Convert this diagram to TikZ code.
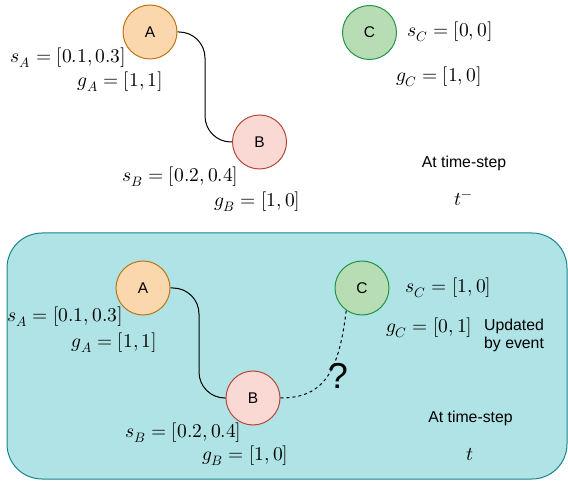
\documentclass[tikz,border=0pt]{standalone}
\usepackage{fontspec}
\setmainfont{Liberation Sans}
\usepackage{unicode-math}
\setmathfont{Latin Modern Math}
\definecolor{afill}{HTML}{FAD7AC}
\definecolor{adraw}{HTML}{BC7418}
\definecolor{bfill}{HTML}{FAD9D5}
\definecolor{bdraw}{HTML}{B5473A}
\definecolor{cfill}{HTML}{B8DCB4}
\definecolor{cdraw}{HTML}{23934A}
\definecolor{boxfill}{HTML}{B0E3E6}
\definecolor{boxdraw}{HTML}{16848C}
\tikzset{
  state/.style={circle, minimum size=54pt, inner sep=0pt, line width=1pt, font=\fontsize{15.5}{18}\selectfont},
  sa/.style={state, fill=afill, draw=adraw},
  sb/.style={state, fill=bfill, draw=bdraw},
  sc/.style={state, fill=cfill, draw=cdraw},
  mlab/.style={inner sep=0pt, font=\fontsize{19.5}{22}\selectfont},
  tlab/.style={inner sep=0pt, font=\fontsize{15.8}{19}\selectfont},
  link/.style={line width=1pt, rounded corners=26pt},
}
\begin{document}
\begin{tikzpicture}[x=1pt, y=-1pt]
\useasboundingbox (0,0) rectangle (568,481);
% ---------- top (t^-) ----------
\node[sa] (A1) at (150,32) {A};
\node[sb] (B1) at (259.5,142) {B};
\node[sc] (C1) at (369.5,32.5) {C};
\coordinate (k1) at (205,32);
\coordinate (k2) at (205,142);
\draw[link] (A1.east) -- (k1) -- (k2) -- (B1.west);
\node[mlab] (sA1) at (68.5,58) {$s_A=[0.1,0.3]$};
\node[mlab] (gA1) at (120.5,82) {$g_A=[1,1]$};
\node[mlab] (sB1) at (180.5,177) {$s_B=[0.2,0.4]$};
\node[mlab] (gB1) at (257.5,202) {$g_B=[1,0]$};
\node[mlab] (sC1) at (450,32) {$s_C=[0,0]$};
\node[mlab] (gC1) at (439,77) {$g_C=[1,0]$};
\node[tlab] (ts1) at (464,163) {At time-step};
\node[mlab] (t1) at (463.5,200) {$t^{-}$};
% ---------- bottom (t) ----------
\node[draw=boxdraw, fill=boxfill, line width=1pt, rounded corners=35pt, minimum width=560pt, minimum height=246pt, inner sep=0pt] (box) at (287,356) {};
\node[sa] (A2) at (143,288) {A};
\node[sb] (B2) at (253,398) {B};
\node[sc] (C2) at (362,288) {C};
\coordinate (k3) at (199,288);
\coordinate (k4) at (199,398);
\draw[link] (A2.east) -- (k3) -- (k4) -- (B2.west);
\draw[line width=1pt, dashed] (B2.east) .. controls (325,398) and (339,370) .. (C2.235);
\node[inner sep=0pt, font=\fontsize{36}{40}\selectfont] (q) at (338,376) {?};
\node[mlab] (sA2) at (65,317) {$s_A=[0.1,0.3]$};
\node[mlab] (gA2) at (114.5,343) {$g_A=[1,1]$};
\node[mlab] (sB2) at (183.5,433) {$s_B=[0.2,0.4]$};
\node[mlab] (gB2) at (245.5,456) {$g_B=[1,0]$};
\node[mlab] (sC2) at (448.5,288) {$s_C=[1,0]$};
\node[mlab] (gC2) at (429.5,328) {$g_C=[0,1]$};
\node[tlab, align=left, anchor=west] (upd) at (484,335.5) {Updated\\[-1pt]by event};
\node[tlab] (ts2) at (470.5,418) {At time-step};
\node[mlab] (t2) at (470,455) {$t$};
\end{tikzpicture}
\end{document}
